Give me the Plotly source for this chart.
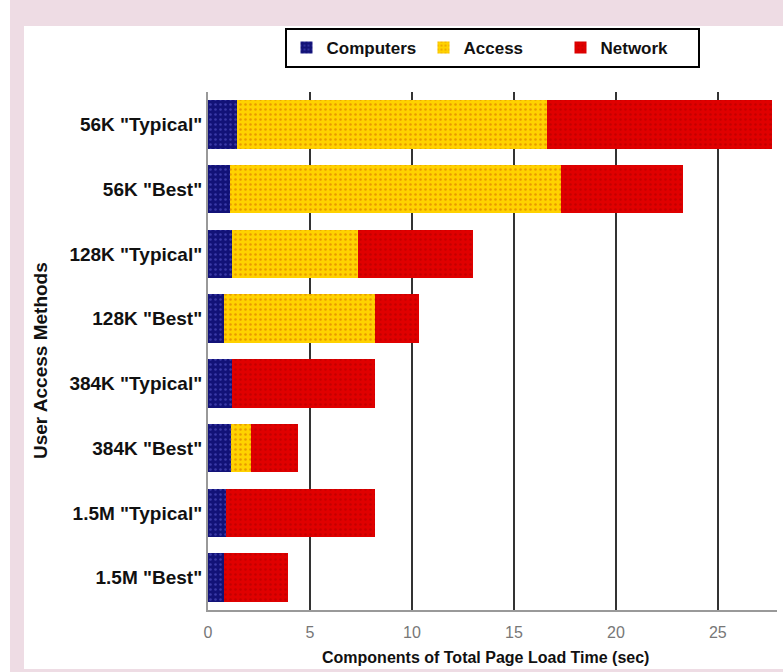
import plotly.graph_objects as go

categories = ['56K "Typical"', '56K "Best"', '128K "Typical"', '128K "Best"',
              '384K "Typical"', '384K "Best"', '1.5M "Typical"', '1.5M "Best"']
computers = [1.42, 1.09, 1.19, 0.80, 1.17, 1.14, 0.86, 0.76]
access = [15.22, 16.21, 6.15, 7.40, 0.0, 0.97, 0.0, 0.0]
network = [11.01, 5.97, 5.65, 2.15, 7.03, 2.32, 7.34, 3.14]
x_ticks = [0, 5, 10, 15, 20, 25]

series = [
    ("Computers", computers, "#121277", "#3a3aa8"),
    ("Access", access, "#ffd200", "#e89a00"),
    ("Network", network, "#e00000", "#c40000"),
]

FONT = "Liberation Sans, Arial, sans-serif"
PINK = "#eedce4"

fig = go.Figure()
for name, vals, bg, fg in series:
    fig.add_trace(go.Bar(
        y=categories, x=vals, name=name, orientation="h",
        marker=dict(color=bg, line=dict(width=0),
                    pattern=dict(shape=".", bgcolor=bg, fgcolor=fg,
                                 size=5, solidity=0.2, fillmode="replace")),
    ))

L, R, T, B = 208, 6, 92, 62
W, H = 783, 672
pw, ph = W - L - R, H - T - B


def px(x):
    return (x - L) / pw


def py(y):
    return (H - B - y) / ph


fig.update_layout(
    width=W, height=H,
    margin=dict(l=L, r=R, t=T, b=B, pad=0),
    paper_bgcolor=PINK, plot_bgcolor="white",
    barmode="stack", bargap=0.25,
    font=dict(family=FONT, color="black"),
    showlegend=True,
    legend=dict(orientation="h", x=px(492), xanchor="center", y=py(28), yanchor="top",
                bgcolor="white", bordercolor="black", borderwidth=2,
                font=dict(family=FONT, size=17, color="#111", weight="bold"),
                itemwidth=30, tracegroupgap=0, traceorder="normal",
                entrywidth=92, entrywidthmode="pixels"),
    xaxis=dict(range=[0, 27.9], tickvals=x_ticks, showgrid=True,
               gridcolor="#333", gridwidth=2, zeroline=False,
               showline=True, linecolor="#999", linewidth=2,
               tickfont=dict(size=16, color="#777"), ticks="", ticklabelstandoff=7),
    yaxis=dict(categoryorder="array", categoryarray=categories, autorange="reversed",
               showgrid=False, zeroline=False, showline=True, linecolor="#999",
               linewidth=2, ticks="", ticklabelstandoff=0,
               tickfont=dict(size=19, color="#111", weight="bold")),
    shapes=[
        dict(type="rect", xref="paper", yref="paper", layer="below",
             x0=px(24), x1=px(W + 5), y0=py(669), y1=py(26),
             fillcolor="white", line=dict(width=0)),
        dict(type="rect", xref="paper", yref="paper", layer="below",
             x0=px(-5), x1=px(10), y0=py(H + 5), y1=py(-5),
             fillcolor="white", line=dict(width=0)),
    ],
    annotations=[
        dict(text="User Access Methods", xref="paper", yref="paper",
             x=px(40), y=py(361), xanchor="center", yanchor="middle",
             textangle=-90, showarrow=False,
             font=dict(size=19, color="#111", weight="bold")),
        dict(text="Components of Total Page Load Time (sec)", xref="paper", yref="paper",
             x=px(485), y=py(657), xanchor="center", yanchor="middle", showarrow=False,
             font=dict(size=16, color="#111", weight="bold")),
    ],
)

fig.write_html("out.html")
